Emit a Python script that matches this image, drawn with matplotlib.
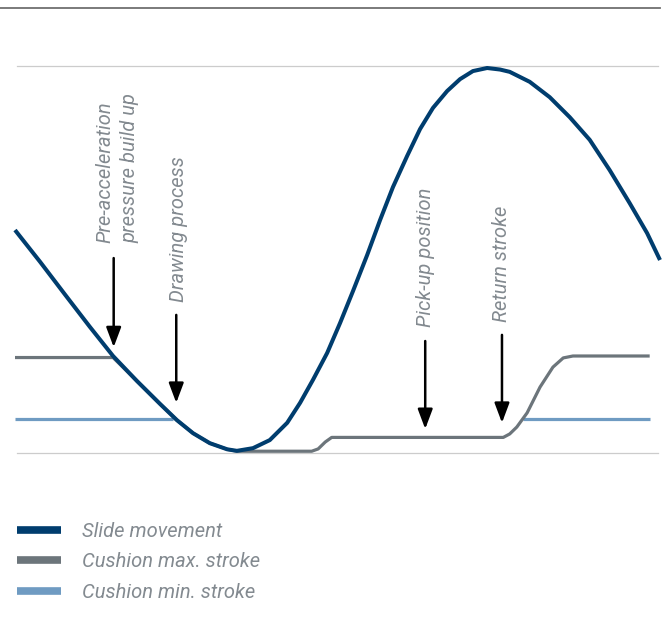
import matplotlib
matplotlib.use("Agg")
import matplotlib.pyplot as plt
from matplotlib.lines import Line2D

# x: cycle position in %, y: stroke in % of full slide stroke
slide_x = [0.0, 3.9, 7.8, 11.6, 15.2, 18.9, 22.5, 25.1, 27.6, 30.2, 32.9, 34.4,
           36.9, 39.5, 42.2, 44.2, 46.2, 48.4, 50.4, 52.4, 54.6, 56.6, 58.6, 60.8,
           62.8, 64.8, 67.0, 69.0, 71.0, 73.2, 75.2, 76.7, 79.8, 82.9, 86.0, 89.1,
           92.2, 95.3, 98.0, 100.0]
slide_y = [57.8, 49.5, 40.9, 32.6, 25.0, 18.5, 12.5, 8.3, 4.9, 2.3, 0.7, 0.3,
           1.0, 3.1, 7.6, 12.8, 18.8, 25.8, 33.6, 41.9, 51.3, 60.4, 69.0, 77.1,
           84.1, 89.6, 94.0, 97.1, 99.2, 100.0, 99.6, 99.0, 96.4, 92.4, 87.2, 81.3,
           73.4, 64.8, 57.0, 50.0]

cush_max_x = [0.0, 15.2, 18.9, 22.5, 25.1, 27.6, 30.2, 32.9, 34.4, 46.0, 47.0, 48.1,
              49.1, 75.7, 76.7, 77.8, 79.4, 81.4, 83.4, 85.0, 86.5, 98.4]
cush_max_y = [24.6, 24.6, 18.5, 12.5, 8.3, 4.9, 2.3, 0.7, 0.2, 0.2, 0.8, 2.6,
              3.8, 3.8, 4.7, 6.5, 10.2, 16.9, 22.1, 24.5, 25.0, 25.0]

cush_min_x = [0.0, 24.5, float("nan"), 78.8, 98.4]
cush_min_y = [8.5, 8.5, float("nan"), 8.5, 8.5]

labels = [["Pre-acceleration", "pressure build up"], ["Drawing process"],
          ["Pick-up position"], ["Return stroke"]]
arrow_x = [15.3, 25.0, 63.6, 75.5]
arrow_top = [50.5, 35.7, 28.9, 30.5]
arrow_tip = [27.3, 12.8, 6.0, 7.6]
label_base = [54.4, 39.1, 32.6, 33.9]

legend_labels = ["Slide movement", "Cushion max. stroke", "Cushion min. stroke"]

c_slide = "#003d6e"
c_max = "#6c757b"
c_min = "#6f9bc2"
c_text = "#838a90"

plt.rcParams["font.family"] = ["Roboto", "DejaVu Sans"]

fig = plt.figure(figsize=(6.66, 6.28), dpi=100)
ax = fig.add_axes([0, 0, 1, 1])
# pixel -> data: x = (px-15)/6.45, y = (452-py)/3.84
ax.set_xlim(-15 / 6.45, 651 / 6.45)
ax.set_ylim(-176 / 3.84, 452 / 3.84)
ax.axis("off")

# frame lines
ax.plot([-2.3, 100.0], [115.6, 115.6], color="#707070", lw=1.3)
ax.plot([0.3, 99.7], [100.4, 100.4], color="#cccccc", lw=0.9)
ax.plot([0.3, 99.7], [-0.2, -0.2], color="#cccccc", lw=0.9)

ax.plot(cush_min_x, cush_min_y, color=c_min, lw=2.3, solid_capstyle="butt")
ax.plot(cush_max_x, cush_max_y, color=c_max, lw=2.3, solid_capstyle="butt",
        solid_joinstyle="round")
ax.plot(slide_x, slide_y, color=c_slide, lw=2.9, solid_capstyle="butt",
        solid_joinstyle="round")

for i in range(len(arrow_x)):
    ax.annotate("", xy=(arrow_x[i], arrow_tip[i]), xytext=(arrow_x[i], arrow_top[i]),
                arrowprops=dict(arrowstyle="-|>,head_length=1.2,head_width=0.45",
                                color="black", lw=1.8, shrinkA=0, shrinkB=0))

label_xs = [[14.0, 17.8], [25.3], [63.6], [75.5]]
for i, lines in enumerate(labels):
    for j, t in enumerate(lines):
        ax.text(label_xs[i][j], label_base[i], t, rotation=90, ha="center", va="bottom",
                fontsize=14.5, style="italic", color=c_text)

handles = [Line2D([], [], color=c, lw=5.5, solid_capstyle="butt")
           for c in [c_slide, c_max, c_min]]
leg = ax.legend(handles, legend_labels, loc="upper left",
                bbox_to_anchor=(17 / 666, 1 - 522 / 628), bbox_transform=fig.transFigure,
                frameon=False, fontsize=14.5, handlelength=2.2, handletextpad=1.05,
                labelspacing=0.56, borderpad=0, borderaxespad=0)
for t in leg.get_texts():
    t.set_color(c_text)
    t.set_style("italic")

fig.savefig("out.png", dpi=100)
